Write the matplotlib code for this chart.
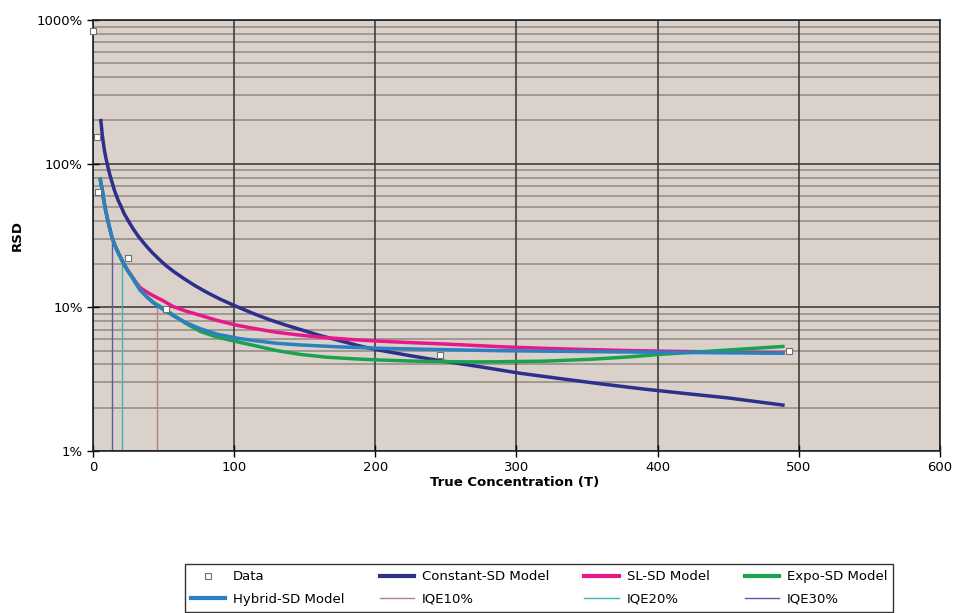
import matplotlib
matplotlib.use("Agg")
import matplotlib.pyplot as plt
from matplotlib.lines import Line2D
from matplotlib.ticker import FixedLocator, FuncFormatter

plt.rcParams["font.family"] = ["DejaVu Sans"]

# measured data points (T, RSD %)
data_t = [0.3, 3.0, 3.8, 25.1, 51.7, 246, 493]
data_rsd = [840, 154, 63, 21.9, 9.8, 4.66, 4.99]

# model curves (T, RSD %)
const_t = [5.4, 6, 6.5, 7.2, 8, 9, 10, 11, 12, 13.5, 15, 16.5, 18, 20, 22, 25,
           28, 32, 37, 42, 47, 52, 58, 65, 72, 80, 90, 101, 113, 125, 137, 147,
           160, 175, 190, 202, 225, 246, 274, 303, 330, 360, 390, 420, 450, 490]
const_rsd = [205, 180, 160, 142, 125, 111, 100, 91, 83, 74, 66, 60, 55, 50, 45,
             40, 35.7, 31.3, 27.2, 24, 21.5, 19.4, 17.5, 15.7, 14.2, 12.8, 11.4,
             10.2, 9.1, 8.2, 7.5, 7.0, 6.4, 5.85, 5.35, 5.05, 4.6, 4.25, 3.86,
             3.47, 3.2, 2.93, 2.7, 2.51, 2.34, 2.08]

sl_t = [5, 5.7, 6.5, 7.2, 8, 9, 10.4, 11.8, 13.3, 15.5, 18, 21.6, 24.5, 27.5,
        30.5, 33.4, 38, 42.9, 49, 57, 66, 76, 88, 102, 115, 130, 147, 165, 185,
        202, 225, 250, 288, 320, 350, 380, 404, 450, 490]
sl_rsd = [80, 72, 66, 59, 53, 47, 40.5, 35.5, 31, 27, 23.8, 20.3, 18.2, 16.5,
          14.9, 13.7, 12.8, 12.0, 11.2, 10.1, 9.4, 8.8, 8.1, 7.5, 7.1, 6.7,
          6.4, 6.15, 5.95, 5.82, 5.68, 5.55, 5.32, 5.18, 5.08, 5.0, 4.95, 4.88,
          4.82]

expo_t = [5, 5.7, 6.5, 7.2, 8, 9, 10.4, 11.8, 13.3, 15.5, 18, 21.6, 24.5, 27.5,
          30.5, 33.4, 38, 42.9, 50, 58, 66, 76, 88, 102, 115, 130, 147, 165,
          185, 202, 225, 246, 270, 288, 320, 353, 380, 404, 430, 460, 490]
expo_rsd = [80, 72, 66, 59, 53, 47, 40.5, 35.5, 31, 27, 23.8, 20.2, 18.0, 16.3,
            14.6, 13.2, 11.9, 10.8, 9.8, 8.7, 7.7, 6.8, 6.2, 5.76, 5.4, 5.0,
            4.7, 4.5, 4.38, 4.30, 4.23, 4.19, 4.17, 4.18, 4.22, 4.35, 4.52,
            4.72, 4.9, 5.12, 5.35]

hybrid_t = [5, 5.7, 6.5, 7.2, 8, 9, 10.4, 11.8, 13.3, 15.5, 18, 21.6, 24.5,
            27.5, 30.5, 33.4, 38, 42.9, 50, 58, 66, 76, 88, 102, 115, 130, 147,
            175, 202, 250, 288, 350, 404, 450, 490]
hybrid_rsd = [80, 72, 66, 59, 53, 47, 40.5, 35.5, 31, 27, 23.8, 20.2, 18.0,
              16.3, 14.6, 13.2, 11.8, 10.7, 9.6, 8.6, 7.8, 7.1, 6.5, 6.1, 5.85,
              5.62, 5.47, 5.3, 5.19, 5.07, 4.99, 4.92, 4.86, 4.82, 4.79]

# IQE markers: concentration where the model reaches the target RSD
iqe_t = [45, 20.5, 13.5]
iqe_rsd = [10, 20, 30]
iqe_names = ["IQE10%", "IQE20%", "IQE30%"]

y_ticks = [1, 10, 100, 1000]
x_ticks = [0, 100, 200, 300, 400, 500, 600]

fig = plt.figure(figsize=(9.64, 6.13), dpi=100)
ax = fig.add_axes([0.0965, 0.2643, 0.8785, 0.7031])
ax.set_facecolor("#d9d1ca")

ax.set_yscale("log")
ax.set_ylim(1, 1000)
ax.set_xlim(0, 600)

# grid
minor = [m * 10 ** d for d in range(0, 3) for m in range(2, 10)]
for v in minor:
    ax.axhline(v, color="#918982", lw=1.1, zorder=1)
for v in y_ticks:
    ax.axhline(v, color="#333333", lw=1.1, zorder=1)
for v in x_ticks:
    ax.axvline(v, color="#333333", lw=1.1, zorder=1)

iqe_colors = ["#b88080", "#3fb5b0", "#5c5cae"]
for t, r, c in zip(iqe_t, iqe_rsd, iqe_colors):
    ax.plot([t, t], [1, r], color=c, lw=1.0, zorder=2)

kw = dict(lw=2.5, solid_joinstyle="round", solid_capstyle="butt")
ax.plot(const_t, const_rsd, color="#2e2f8c", zorder=3, **kw)
ax.plot(sl_t, sl_rsd, color="#e8178a", zorder=3, **kw)
ax.plot(expo_t, expo_rsd, color="#1ca24f", zorder=4, **kw)
ax.plot(hybrid_t, hybrid_rsd, color="#2a80c0", zorder=5, **kw)

ax.plot(data_t, data_rsd, ls="none", marker="s", ms=4, mfc="white",
        mec="#707070", mew=0.8, zorder=6, clip_on=False)

ax.yaxis.set_major_locator(FixedLocator(y_ticks))
ax.yaxis.set_minor_locator(FixedLocator([]))
ax.yaxis.set_major_formatter(FuncFormatter(lambda v, p: f"{v:g}%"))
ax.set_xticks(x_ticks)
ax.tick_params(axis="both", direction="inout", length=8, width=1,
               labelsize=9.5, colors="black")
ax.tick_params(axis="x", pad=3)
for sp in ax.spines.values():
    sp.set_color("#222222")
    sp.set_linewidth(1.2)

ax.set_xlabel("True Concentration (T)", fontsize=9.5, fontweight="bold")
ax.set_ylabel("RSD", fontsize=9.5, fontweight="bold")
ax.xaxis.set_label_coords(0.498, -0.058)
ax.yaxis.set_label_coords(-0.082, 0.5)

def ln(c, lw):
    return Line2D([], [], color=c, lw=lw)

h_data = Line2D([], [], ls="none", marker="s", ms=4, mfc="white",
                mec="#707070", mew=0.8)
handles = [h_data, ln("#2a80c0", 3), ln("#2e2f8c", 3), ln(iqe_colors[0], 1),
           ln("#e8178a", 3), ln(iqe_colors[1], 1), ln("#1ca24f", 3),
           ln(iqe_colors[2], 1)]
labels = ["Data", "Hybrid-SD Model", "Constant-SD Model", iqe_names[0],
          "SL-SD Model", iqe_names[1], "Expo-SD Model", iqe_names[2]]
leg = fig.legend(handles, labels, ncol=4, loc="upper left",
                 bbox_to_anchor=(178 / 964, -0.1, 722 / 964, 0.19),
                 mode="expand", fontsize=9.5, frameon=True, fancybox=False,
                 edgecolor="black", handlelength=2.6, handletextpad=0.6,
                 borderpad=0.45, labelspacing=0.7)
leg.get_frame().set_linewidth(1.0)

fig.savefig("out.png", dpi=100)
